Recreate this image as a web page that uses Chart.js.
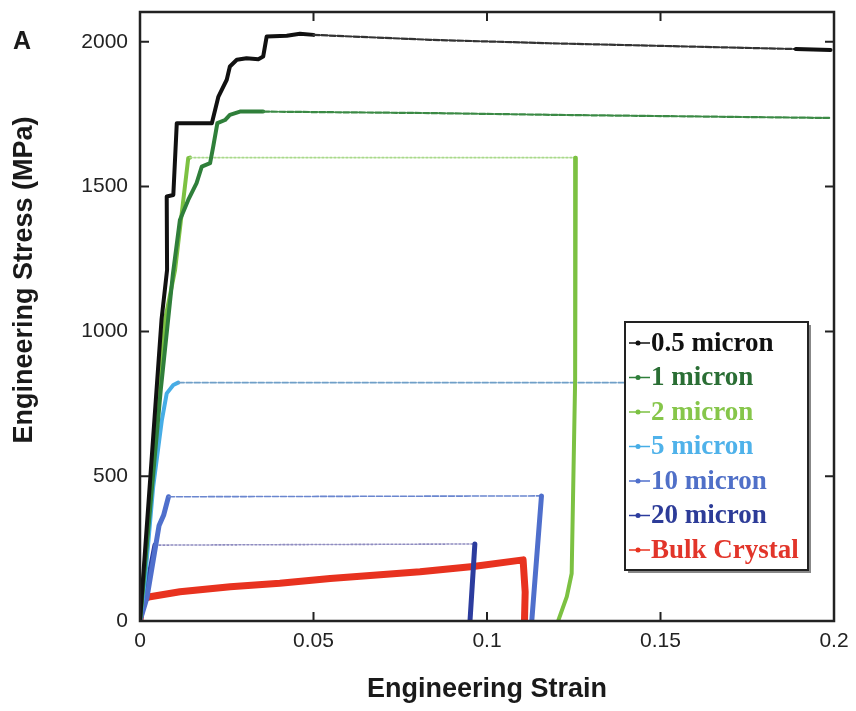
<!DOCTYPE html>
<html><head><meta charset="utf-8">
<script src="https://cdn.jsdelivr.net/npm/chart.js@4/dist/chart.umd.min.js"></script>
<style>html,body{margin:0;padding:0;background:#fff}#wrap{width:856px;height:711px;position:relative}</style>
</head><body><div id="wrap"><canvas id="c" width="856" height="711"></canvas></div>
<script>
// ---- data ----
const seriesLabels = ['0.5 micron','1 micron','2 micron','5 micron','10 micron','20 micron','Bulk Crystal'];
const xTicks = [0, 0.05, 0.1, 0.15, 0.2];
const yTicks = [0, 500, 1000, 1500, 2000];
const xTickLabels = ['0','0.05','0.1','0.15','0.2'];
const yTickLabels = ['0','500','1000','1500','2000'];

const strain05 = [0, 0.003, 0.0062, 0.0078, 0.0077, 0.0096, 0.0106, 0.0207, 0.0226, 0.025, 0.0259, 0.0279, 0.0307, 0.0341, 0.0355, 0.0365, 0.0423, 0.0461, 0.05, 0.0836, 0.118, 0.189, 0.199];
const stress05 = [0, 500, 1040, 1212, 1466, 1471, 1719, 1719, 1811, 1869, 1915, 1938, 1943, 1940, 1949, 2018, 2021, 2028, 2024, 2007, 1995, 1975, 1972];

const strain1 = [0, 0.006, 0.0095, 0.0115, 0.0139, 0.0163, 0.0178, 0.0202, 0.0211, 0.0223, 0.0245, 0.0259, 0.0288, 0.0355, 0.0836, 0.118, 0.199];
const stress1 = [0, 800, 1200, 1385, 1454, 1512, 1569, 1581, 1638, 1719, 1730, 1748, 1759, 1759, 1754, 1748, 1737];

const strain2 = [0, 0.0072, 0.0101, 0.0139, 0.0144, 0.1256, 0.1254, 0.1244, 0.123, 0.1205];
const stress2 = [0, 1040, 1212, 1598, 1600, 1600, 832, 164, 84, 0];

const strain5 = [0, 0.0015, 0.0038, 0.0063, 0.0077, 0.0096, 0.011, 0.15];
const stress5 = [0, 150, 464, 694, 786, 815, 823, 823];

const strain10 = [0, 0.002, 0.0055, 0.0068, 0.0082, 0.1157, 0.1129];
const stress10 = [0, 80, 330, 365, 429, 432, 0];

const strain20 = [0, 0.002, 0.0043, 0.0965, 0.0951];
const stress20 = [0, 120, 262, 266, 0];

const strainBulk = [0, 0.0003, 0.0008, 0.0014, 0.0029, 0.0115, 0.026, 0.0403, 0.0548, 0.0807, 0.096, 0.1104, 0.111, 0.1108];
const stressBulk = [0, 40, 65, 78, 84, 101, 118, 130, 147, 170, 188, 211, 100, 0];

// ---- build ----
const pts = (xs, ys) => xs.map((x, i) => ({x, y: ys[i]}));
const colors = ['#111111','#2f7f3a','#7cc142','#46ade6','#4f6fcc','#2c3c9e','#e8321f'];
const textColors = ['#111111','#2a6e34','#86c64a','#4fb2ea','#5070c8','#2d3c98','#e2352a'];
const plateauColors = ['#333333','#3b8a45','#a9d98a','#6f9fc8','#6a86cf','#8f8cc0','#e8321f'];
const widths = [4, 4, 4, 4, 5, 5, 7];
const allData = [pts(strain05, stress05), pts(strain1, stress1), pts(strain2, stress2), pts(strain5, stress5), pts(strain10, stress10), pts(strain20, stress20), pts(strainBulk, stressBulk)];

function isPlateau(ctx) {
  const dx = Math.abs(ctx.p1.x - ctx.p0.x), dy = Math.abs(ctx.p1.y - ctx.p0.y);
  return ctx.datasetIndex !== 6 && dx > 40 && dy / dx < 0.06;
}

const datasets = allData.map((d, i) => ({
  label: seriesLabels[i], data: d, showLine: true, borderColor: colors[i], backgroundColor: colors[i],
  borderWidth: widths[i], pointRadius: 0, tension: 0, borderJoinStyle: 'round', borderCapStyle: 'round',
  segment: {
    borderWidth: ctx => isPlateau(ctx) ? (i <= 1 ? 2.2 : 1.6) : undefined,
    borderColor: ctx => isPlateau(ctx) ? plateauColors[i] : undefined,
    borderDash: ctx => isPlateau(ctx) ? (i === 5 || i === 2 ? [2, 2] : [6, 2]) : undefined
  }
}));

const tickFont = {family: "'Liberation Sans', Arial, sans-serif", size: 21};

const framePlugin = {
  id: 'frame',
  afterDatasetsDraw(chart) {
    const {ctx, chartArea: a, scales: {x, y}} = chart;
    ctx.save();
    ctx.strokeStyle = '#222'; ctx.lineWidth = 2.5;
    ctx.strokeRect(a.left, a.top, a.right - a.left, a.bottom - a.top);
    ctx.lineWidth = 2;
    const L = 9;
    xTicks.forEach(v => { const px = x.getPixelForValue(v);
      ctx.beginPath(); ctx.moveTo(px, a.bottom); ctx.lineTo(px, a.bottom - L); ctx.moveTo(px, a.top); ctx.lineTo(px, a.top + L); ctx.stroke(); });
    yTicks.forEach(v => { const py = y.getPixelForValue(v);
      ctx.beginPath(); ctx.moveTo(a.left, py); ctx.lineTo(a.left + L, py); ctx.moveTo(a.right, py); ctx.lineTo(a.right - L, py); ctx.stroke(); });

    // legend
    const lx = 625, ly = 322, lw = 183, lh = 248;
    ctx.fillStyle = '#888'; ctx.fillRect(lx + 3, ly + 3, lw, lh);
    ctx.fillStyle = '#fff'; ctx.fillRect(lx, ly, lw, lh);
    ctx.strokeStyle = '#222'; ctx.lineWidth = 2; ctx.strokeRect(lx, ly, lw, lh);
    ctx.font = "bold 27px 'Liberation Serif', 'Times New Roman', serif";
    ctx.textBaseline = 'middle'; ctx.textAlign = 'left';
    chart.data.datasets.forEach((ds, i) => {
      const yy = 343 + i * 34.5;
      ctx.strokeStyle = colors[i]; ctx.lineWidth = 1.5;
      ctx.beginPath(); ctx.moveTo(629, yy); ctx.lineTo(650, yy); ctx.stroke();
      ctx.fillStyle = colors[i]; ctx.beginPath(); ctx.arc(638, yy, 2.5, 0, Math.PI * 2); ctx.fill();
      ctx.fillStyle = textColors[i];
      ctx.fillText(ds.label, 651, yy + 1);
    });

    // titles
    ctx.fillStyle = '#1a1a1a';
    ctx.font = "bold 27px 'Liberation Sans', Arial, sans-serif";
    ctx.textAlign = 'center'; ctx.textBaseline = 'middle';
    ctx.fillText('Engineering Strain', 487, 690);
    ctx.save(); ctx.translate(25, 280); ctx.rotate(-Math.PI / 2);
    ctx.fillText('Engineering Stress (MPa)', 0, 0); ctx.restore();
    ctx.font = "bold 25px 'Liberation Sans', Arial, sans-serif";
    ctx.fillText('A', 22, 42);
    ctx.restore();
  }
};

new Chart(document.getElementById('c'), {
  type: 'scatter',
  data: {datasets},
  options: {
    responsive: false, animation: false, devicePixelRatio: 1,
    layout: {padding: {left: 0, top: 12, right: 22, bottom: 0}},
    plugins: {legend: {display: false}, tooltip: {enabled: false}},
    scales: {
      x: {type: 'linear', min: 0, max: 0.2,
        afterFit: s => { s.height = 90; s.paddingLeft = 0; s.paddingRight = 0; },
        afterBuildTicks: s => { s.ticks = xTicks.map(v => ({value: v})); },
        grid: {display: false, drawTicks: false}, border: {display: false},
        ticks: {font: tickFont, color: '#222', padding: 8, maxRotation: 0, autoSkip: false,
          callback: (v) => xTickLabels[xTicks.indexOf(v)] ?? ''}},
      y: {type: 'linear', min: 0, max: 2103,
        afterFit: s => { s.width = 140; s.paddingTop = 0; s.paddingBottom = 0; },
        afterBuildTicks: s => { s.ticks = yTicks.map(v => ({value: v})); },
        grid: {display: false, drawTicks: false}, border: {display: false},
        ticks: {font: tickFont, color: '#222', padding: 12, autoSkip: false,
          callback: (v) => yTickLabels[yTicks.indexOf(v)] ?? ''}}
    }
  },
  plugins: [framePlugin]
});
</script></body></html>
